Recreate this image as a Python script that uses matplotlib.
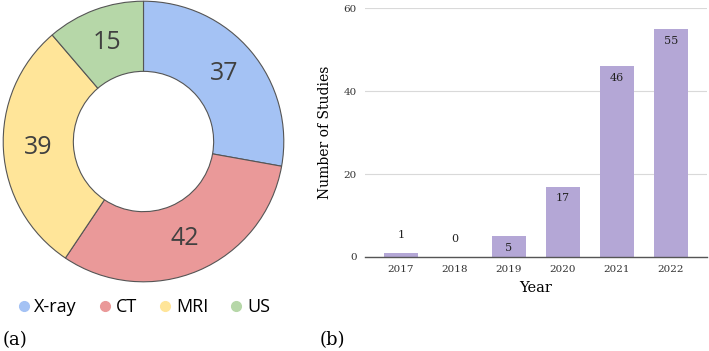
import matplotlib
matplotlib.use("Agg")
import matplotlib.pyplot as plt
from matplotlib.lines import Line2D

# Data
modalities = ["X-ray", "CT", "MRI", "US"]
modality_counts = [37, 42, 39, 15]
modality_colors = ["#a4c2f4", "#ea9999", "#ffe599", "#b6d7a8"]

years = ["2017", "2018", "2019", "2020", "2021", "2022"]
studies = [1, 0, 5, 17, 46, 55]
bar_color = "#b4a7d6"

W, H = 709, 351
fig = plt.figure(figsize=(W / 100, H / 100), dpi=100)

def rect(x0, y0, x1, y1):
    return [x0 / W, 1 - y1 / H, (x1 - x0) / W, (y1 - y0) / H]

# ---------- (a) donut ----------
cx, cy, R = 143.5, 141.5, 141
axp = fig.add_axes(rect(cx - R, cy - R, cx + R, cy + R))
wedges, texts = axp.pie(
    modality_counts, colors=modality_colors, startangle=90, counterclock=False,
    radius=1, wedgeprops=dict(width=0.5, edgecolor="#555555", linewidth=0.8),
    labels=[str(v) for v in modality_counts], labeldistance=0.75,
    textprops=dict(fontsize=18, color="#404040", ha="center", va="center",
                   family="Open Sans"),
)
axp.set_xlim(-1.005, 1.005)
axp.set_ylim(-1.005, 1.005)
axp.set_aspect("equal")
axp.axis("off")

handles = [Line2D([0], [0], marker="o", linestyle="", markersize=7,
                  markerfacecolor=c, markeredgecolor=c) for c in modality_colors]
fig.legend(handles, modalities, loc="center", bbox_to_anchor=(144 / W, 1 - 307 / H),
           ncol=4, frameon=False, handlelength=0.6, handletextpad=0.3,
           columnspacing=1.25, borderpad=0, borderaxespad=0,
           prop=dict(family="Open Sans", size=13))

fig.text(3 / W, 1 - 340 / H, "(a)", fontsize=13, family="DejaVu Serif",
         va="center", ha="left")
fig.text(320 / W, 1 - 340 / H, "(b)", fontsize=13, family="DejaVu Serif",
         va="center", ha="left")

# ---------- (b) bar chart ----------
axb = fig.add_axes(rect(365, 8.3, 707, 257))
x = list(range(len(years)))
bars = axb.bar(x, studies, width=0.63, color=bar_color, zorder=3)
axb.set_xlim(-0.667, len(years) - 1 + 0.667)
axb.set_ylim(0, 60)
axb.set_yticks([0, 20, 40, 60])
axb.set_xticks(x)
axb.set_xticklabels(years)
axb.grid(axis="y", color="#d9d9d9", linewidth=0.8, zorder=0)
for s in ["top", "right", "left"]:
    axb.spines[s].set_visible(False)
axb.spines["bottom"].set_color("#555555")
axb.spines["bottom"].set_linewidth(1.0)
axb.spines["bottom"].set_zorder(4)
axb.tick_params(length=0, labelsize=7.5, colors="#333333", pad=6)
for lab in axb.get_xticklabels() + axb.get_yticklabels():
    lab.set_family("DejaVu Serif")
axb.set_xlabel("Year", fontsize=10.5, family="DejaVu Serif", labelpad=5)
axb.set_ylabel("Number of Studies", fontsize=10, family="DejaVu Serif", labelpad=8)

for xi, v in zip(x, studies):
    off = -8.5 if v >= 5 else 13
    axb.annotate(str(v), (xi, v), xytext=(0, off), textcoords="offset points",
                 ha="center", va="center", fontsize=8, family="DejaVu Serif",
                 color="#222222", zorder=5)

fig.savefig("out.png", dpi=100)
